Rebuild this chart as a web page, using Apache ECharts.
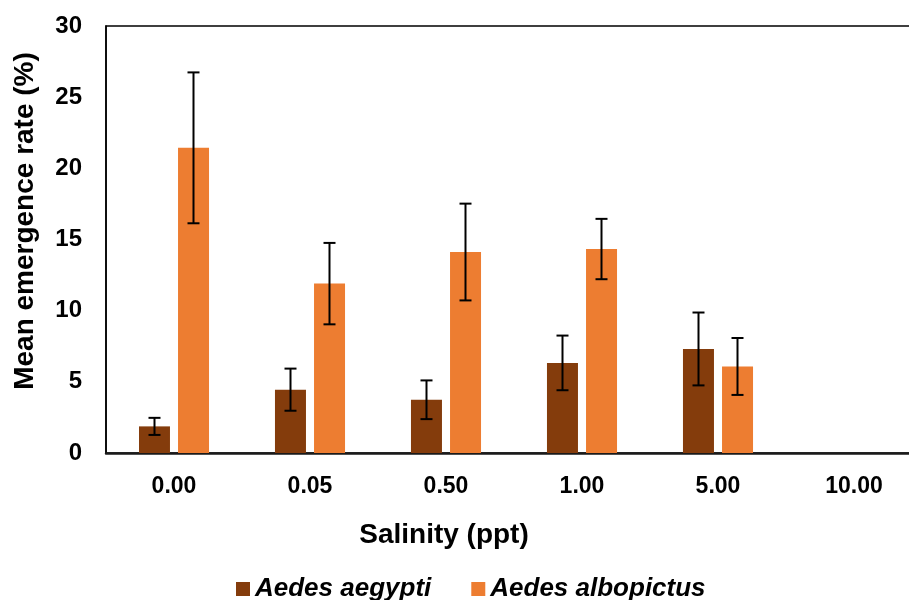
<!DOCTYPE html>
<html>
<head>
<meta charset="utf-8">
<script src="https://cdn.jsdelivr.net/npm/echarts@6/dist/echarts.min.js"></script>
<style>
  html, body { margin: 0; padding: 0; background: #fff; overflow: hidden; }
  #chart { width: 923px; height: 600px; }
</style>
</head>
<body>
<div id="chart"></div>
<script>
const categories = ['0.00', '0.05', '0.50', '1.00', '5.00', '10.00']
const aegypti = [1.87, 4.45, 3.74, 6.33, 7.31, 0]
const albopictus = [21.44, 11.90, 14.12, 14.33, 6.08, 0]
const aegyptiErr = [0.60, 1.48, 1.36, 1.92, 2.56, 0]
const albopictusErr = [5.30, 2.86, 3.40, 2.12, 2.00, 0]
const yTicks = [0, 5, 10, 15, 20, 25, 30]

const FONT = "'Liberation Sans', Arial, sans-serif"
const BAR_W = 31
const OFFSET = 19.5

function errorSeries(name, means, errs, dx) {
  return {
    name: name + ' err',
    type: 'custom',
    z: 10,
    silent: true,
    renderItem: function (params, api) {
      const i = api.value(0)
      const lo = api.coord([i, api.value(1)])
      const hi = api.coord([i, api.value(2)])
      const x = lo[0] + dx
      const cap = 6
      const style = { stroke: '#000', lineWidth: 2 }
      return {
        type: 'group',
        children: [
          { type: 'line', shape: { x1: x, y1: lo[1], x2: x, y2: hi[1] }, style: style },
          { type: 'line', shape: { x1: x - cap, y1: lo[1], x2: x + cap, y2: lo[1] }, style: style },
          { type: 'line', shape: { x1: x - cap, y1: hi[1], x2: x + cap, y2: hi[1] }, style: style }
        ]
      }
    },
    data: means.map(function (m, i) {
      return errs[i] > 0 ? [i, m - errs[i], m + errs[i]] : null
    }).filter(function (d) { return d })
  }
}

const chart = echarts.init(document.getElementById('chart'))
chart.setOption({
  backgroundColor: '#fff',
  animation: false,
  grid: {
    left: 106,
    top: 26,
    right: 1,
    bottom: 147,
    show: true,
    borderColor: '#000',
    borderWidth: 1.5
  },
  legend: {
    left: 231,
    top: 571,
    icon: 'rect',
    itemWidth: 14,
    itemHeight: 14,
    itemGap: 40,
    data: ['Aedes aegypti', 'Aedes albopictus'],
    textStyle: {
      fontFamily: FONT,
      fontSize: 26,
      fontWeight: 'bold',
      fontStyle: 'italic',
      color: '#000'
    }
  },
  graphic: [
    {
      type: 'text',
      x: 25,
      y: 221,
      rotation: Math.PI / 2,
      style: {
        text: 'Mean emergence rate (%)',
        font: 'bold 28px ' + FONT,
        fill: '#000',
        align: 'center',
        verticalAlign: 'middle'
      }
    },
    {
      type: 'text',
      x: 444,
      y: 535,
      style: {
        text: 'Salinity (ppt)',
        font: 'bold 28px ' + FONT,
        fill: '#000',
        align: 'center',
        verticalAlign: 'middle'
      }
    }
  ],
  xAxis: {
    type: 'category',
    data: categories,
    axisTick: { show: false },
    axisLine: { lineStyle: { color: '#1a1a1a', width: 2.5 } },
    axisLabel: {
      margin: 22,
      fontFamily: FONT,
      fontSize: 23,
      fontWeight: 'bold',
      color: '#000'
    }
  },
  yAxis: {
    type: 'value',
    min: yTicks[0],
    max: yTicks[yTicks.length - 1],
    interval: 5,
    splitLine: { show: false },
    axisTick: { show: false },
    axisLine: { show: true, lineStyle: { color: '#000', width: 1.5 } },
    axisLabel: {
      margin: 24,
      fontFamily: FONT,
      fontSize: 24,
      fontWeight: 'bold',
      color: '#000'
    }
  },
  series: [
    {
      name: 'Aedes aegypti',
      type: 'bar',
      barWidth: BAR_W,
      barGap: '26%',
      itemStyle: { color: '#843C0C' },
      data: aegypti
    },
    {
      name: 'Aedes albopictus',
      type: 'bar',
      barWidth: BAR_W,
      itemStyle: { color: '#ED7D31' },
      data: albopictus
    },
    errorSeries('Aedes aegypti', aegypti, aegyptiErr, -OFFSET),
    errorSeries('Aedes albopictus', albopictus, albopictusErr, OFFSET)
  ]
})
</script>
</body>
</html>
